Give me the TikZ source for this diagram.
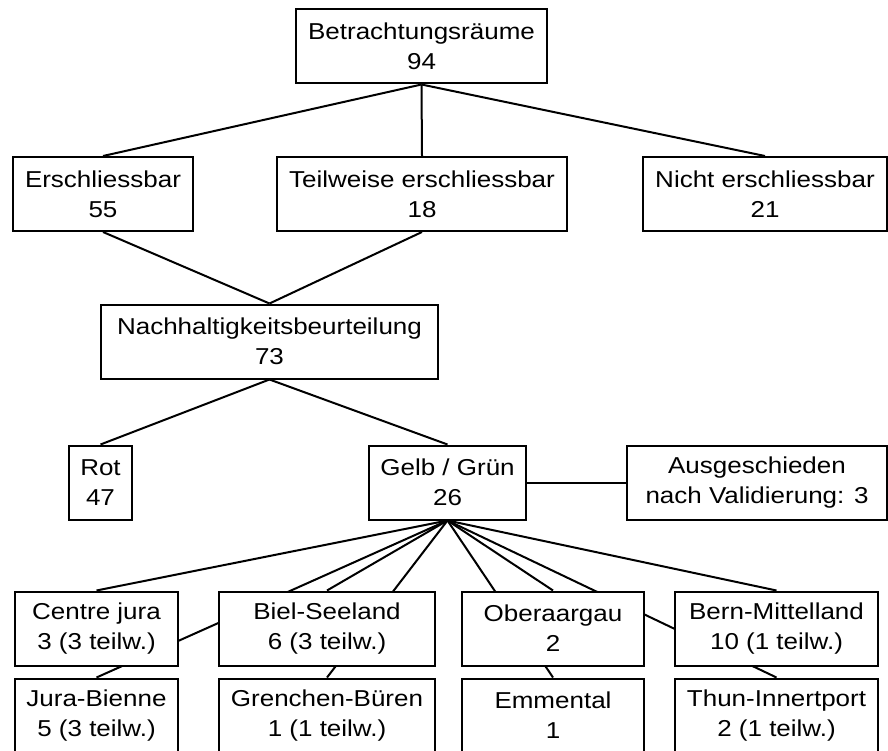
\documentclass[tikz,border=0pt]{standalone}
\usepackage{fontspec}
\setmainfont{Liberation Sans}[FakeStretch=1.13]
\usetikzlibrary{backgrounds}
\begin{document}
\begin{tikzpicture}[x=1pt,y=-1pt,line width=2pt,
    every on background layer/.style={line width=2pt},
    box/.style={draw,fill=white,align=center,inner sep=0pt,
      minimum height=74pt,font=\fontsize{23}{30}\selectfont}]
      \useasboundingbox (0,0) rectangle (888,751);
      \draw
        (421.5,46.5) node[box,minimum width=251pt] (betr){Betrachtungsräume\\94}
        (103,194) node[box,minimum width=180pt] (ersch){Erschliessbar\\55}
        (422,194) node[box,minimum width=290pt] (teil){Teilweise erschliessbar\\18}
        (765,194) node[box,minimum width=244pt] (nicht){Nicht erschliessbar\\21}
        (269.5,341.5) node[box,minimum width=337pt] (nach){Nachhaltigkeitsbeurteilung\\73}
        (100.5,482.5) node[box,minimum width=63pt] (rot){Rot\\47}
        (447.5,482.5) node[box,minimum width=157pt] (gelb){Gelb / Grün\\26}
        (757,482.5) node[box,minimum width=260pt] (aus){Ausgeschieden\\nach Validierung: 3}
        (96.5,628.5) node[box,minimum width=163pt] (cjura){Centre jura\\3 (3 teilw.)}
        (327,628.5) node[box,minimum width=216pt] (biel){Biel-Seeland\\6 (3 teilw.)}
        (553,628.5) node[box,minimum width=182pt] (ober){Oberaargau\\2}
        (776.5,628.5) node[box,minimum width=203pt] (bern){Bern-Mittelland\\10 (1 teilw.)}
        (96.5,715.5) node[box,minimum width=163pt] (jbienne){Jura-Bienne\\5 (3 teilw.)}
        (327,715.5) node[box,minimum width=216pt] (grenchen){Grenchen-Büren\\1 (1 teilw.)}
        (553,715.5) node[box,minimum width=182pt] (emmental){Emmental\\1}
        (776.5,715.5) node[box,minimum width=203pt] (thun){Thun-Innertport\\2 (1 teilw.)};
      \begin{scope}[on background layer]
        \draw (betr.south) to (ersch.north);
        \draw (betr.south) to (teil.north);
        \draw (betr.south) to (nicht.north);
        \draw (ersch.south) to (nach.north);
        \draw (teil.south) to (nach.north);
        \draw (nach.south) to (rot.north);
        \draw (nach.south) to (gelb.north);
        \draw (gelb.east) to (aus.west);
        \draw (gelb.south) to (cjura.north);
        \draw (gelb.south) to (biel.north);
        \draw (gelb.south) to (ober.north);
        \draw (gelb.south) to (bern.north);
        \draw (gelb.south) to (jbienne.north);
        \draw (gelb.south) to (grenchen.north);
        \draw (gelb.south) to (emmental.north);
        \draw (gelb.south) to (thun.north);
      \end{scope}
    \end{tikzpicture}
\end{document}
